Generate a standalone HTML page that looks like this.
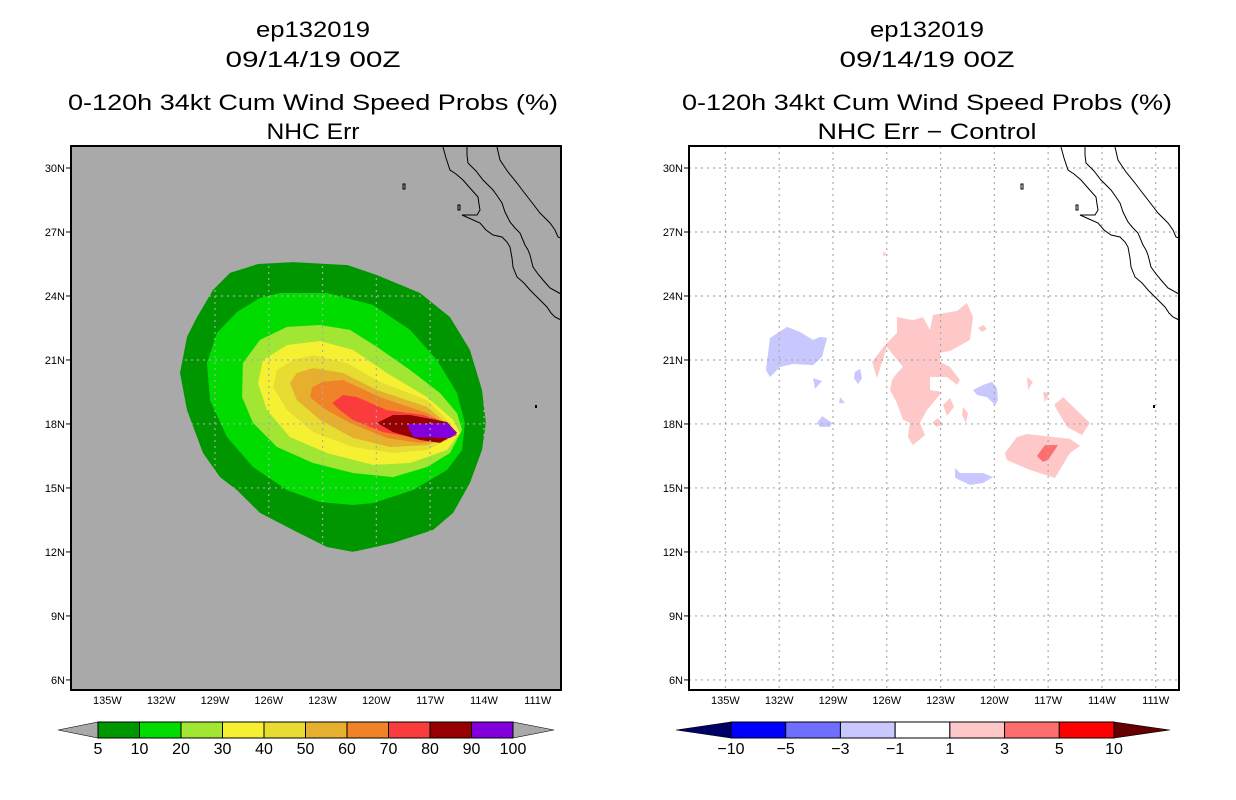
<!DOCTYPE html>
<html><head><meta charset="utf-8"><style>
body{margin:0;background:#fff;}
svg{display:block;font-family:"Liberation Sans",sans-serif;}
</style></head><body>
<svg id="s" width="1236" height="800" xmlns="http://www.w3.org/2000/svg"></svg>
<script>
// ---- data ----
const latTicks=[30,27,24,21,18,15,12,9,6];
const lonTicks=[135,132,129,126,123,120,117,114,111];
const leftLevels=['5','10','20','30','40','50','60','70','80','90','100'];
const leftColors=['#009600','#00DC00','#A0E632','#F5F032','#E6DC32','#E6AF2D','#F08228','#FA3C3C','#960000','#8200DC'];
const rightLevels=['−10','−5','−3','−1','1','3','5','10'];
const rightColors=['#0000FF','#6E6EFF','#C8C8FF','#FFFFFF','#FFC8C8','#FF6E6E','#FF0000'];
const c5=[[126.6,25.5],[124.65,25.59],[121.6,25.45],[119.96,24.98],[117.56,24.14],[115.89,23.01],[114.78,21.47],[114.11,19.59],[113.89,18.05],[114.11,16.78],[114.78,15.23],[115.72,13.83],[116.84,13.03],[119.07,12.42],[121.3,12.0],[122.75,12.23],[124.65,13.03],[126.49,13.83],[127.77,14.9],[128.72,15.51],[129.67,16.64],[130.56,18.65],[130.95,20.39],[130.56,22.08],[130.0,23.01],[129.11,24.28],[128.16,25.08]];
const c10=[[125.37,24.14],[122.75,24.14],[120.19,23.58],[118.12,22.41],[116.62,21.0],[115.5,19.45],[115.06,18.05],[115.22,16.78],[116.06,15.84],[117.96,14.9],[120.19,14.29],[121.3,14.2],[123.14,14.34],[124.98,14.9],[126.88,15.98],[128.33,17.39],[129.28,19.12],[129.45,20.86],[128.89,22.27],[127.77,23.25],[126.49,23.91]];
const c20=[[123.14,22.64],[121.47,22.41],[119.96,21.61],[118.12,20.53],[116.45,19.45],[115.5,18.51],[115.22,17.72],[115.89,16.64],[117.17,15.98],[119.07,15.51],[121.3,15.7],[123.53,16.17],[125.54,16.92],[126.88,18.05],[127.49,19.26],[127.44,20.86],[126.49,21.94],[124.98,22.55]];
const c30=[[124.98,21.7],[123.14,21.89],[121.3,21.47],[119.41,20.39],[117.17,19.26],[115.72,18.19],[115.33,17.58],[116.06,16.78],[118.12,16.17],[120.19,16.08],[122.75,16.64],[124.82,17.39],[126.1,18.65],[126.6,19.92],[126.32,21.0]];
const c40=[[123.53,21.23],[121.64,20.86],[119.8,19.97],[117.17,19.12],[115.89,18.05],[115.72,17.39],[117.17,16.78],[119.07,16.64],[121.3,16.92],[123.53,17.62],[124.98,18.65],[125.76,19.73],[125.54,20.53],[124.65,21.0]];
const c50=[[123.53,20.62],[121.86,20.39],[119.96,19.59],[117.17,18.8],[115.89,17.86],[115.89,17.39],[117.17,17.01],[119.24,16.92],[121.3,17.34],[123.14,18.19],[124.43,19.12],[124.82,19.92],[124.43,20.39]];
const c60=[[122.97,19.97],[121.86,20.06],[119.8,19.26],[117.17,18.51],[115.89,17.86],[116.06,17.25],[117.56,17.11],[119.41,17.34],[121.47,18.05],[122.97,18.75],[123.7,19.26],[123.58,19.73]];
const c70=[[121.86,19.36],[121.08,19.26],[119.41,18.65],[117.4,18.42],[116.06,18.05],[115.5,17.48],[116.28,17.25],[117.73,17.34],[119.63,17.62],[121.3,18.19],[122.03,18.65],[122.47,18.98]];
const c80=[[119.96,18.05],[119.07,18.42],[118.12,18.42],[116.06,18.09],[115.5,17.58],[116.45,17.11],[117.56,17.25],[119.07,17.62]];
const c90=[[118.29,18.0],[116.06,18.05],[115.5,17.58],[115.89,17.34],[117.96,17.39]];
const leftContours=[c5,c10,c20,c30,c40,c50,c60,c70,c80,c90];
const diffBlobs=[
 [2,[[132.51,22.03],[131.56,22.55],[130.84,22.31],[130.11,21.94],[129.72,22.08],[129.33,22.03],[129.61,21.14],[130.11,20.76],[131.23,20.81],[131.95,20.67],[132.51,20.2],[132.74,20.53]]],
 [4,[[125.43,23.01],[124.54,22.87],[123.98,23.01],[123.59,22.41],[123.42,23.11],[122.08,23.3],[121.53,23.67],[121.19,23.01],[121.36,21.94],[122.47,21.42],[123.03,21.33],[123.03,20.91],[122.47,20.67],[121.92,20.06],[122.08,19.83],[122.64,20.2],[123.59,20.2],[123.59,19.59],[122.92,19.5],[123.76,18.65],[124.15,18.05],[123.87,17.48],[124.54,17.01],[124.82,17.39],[124.71,18.05],[125.1,18.19],[125.43,18.98],[125.82,19.59],[125.71,20.06],[125.43,20.39],[125.1,20.67],[125.99,21.61],[126.55,20.15],[126.82,20.91],[126.1,21.7],[125.43,22.27]]],
 [2,[[121.19,19.59],[120.63,19.83],[120.13,19.97],[119.85,19.69],[119.8,19.12],[119.96,18.89],[120.41,19.26],[120.97,19.36]]],
 [2,[[122.19,15.94],[121.92,15.7],[120.63,15.7],[120.08,15.51],[120.63,15.23],[121.36,15.14],[122.19,15.47]]],
 [4,[[118.74,17.39],[118.18,17.53],[117.62,17.48],[115.78,17.3],[115.22,16.97],[115.78,16.64],[116.62,15.47],[118.01,15.84],[119.3,16.31],[119.41,16.64]]],
 [5,[[117.18,17.01],[116.45,17.01],[117.01,16.31],[117.29,16.22],[117.62,16.5]]],
 [4,[[116.17,19.26],[114.67,18.05],[115.11,17.48],[115.95,17.86],[116.67,18.89]]],
 [4,[[118.18,20.2],[117.85,19.97],[118.12,19.59]]],
 [4,[[117.29,19.5],[116.9,19.45],[117.18,19.03]]],
 [4,[[122.86,18.89],[122.47,19.22],[122.25,18.8],[122.64,18.37]]],
 [4,[[121.75,18.8],[121.47,18.51],[121.58,18.05],[121.8,18.42]]],
 [4,[[123.48,18.05],[123.14,18.28],[122.86,17.95],[123.2,17.86]]],
 [4,[[120.91,22.5],[120.63,22.64],[120.41,22.45],[120.69,22.31]]],
 [4,[[126.2,26.1],[126.0,25.95],[126.2,25.85]]],
 [2,[[130.11,20.15],[129.61,20.01],[130.0,19.64]]],
 [2,[[127.77,20.44],[127.49,20.58],[127.38,20.15],[127.6,19.87],[127.83,20.15]]],
 [2,[[128.61,19.26],[128.33,18.98],[128.66,18.98]]],
 [2,[[129.89,18.05],[129.61,18.37],[129.05,18.05],[129.16,17.86],[129.72,17.86]]]
];
const coastA=[[443,147],[446,158],[450,170],[456,174],[463,180],[470,188],[478,197],[479,204],[480,210],[477,215],[462,215],[471,219],[480,223],[486,230],[493,235],[502,237],[507,242],[510,247],[512,258],[513,267],[517,277],[524,283],[530,290],[538,298],[547,307],[551,313],[555,317],[561,320]];
const coastB=[[467,147],[467,155],[468,163],[476,171],[483,180],[493,190],[498,197],[502,203],[505,212],[510,222],[515,228],[520,233],[525,245],[528,250],[530,255],[533,267],[538,274],[543,280],[550,288],[561,294]];
const coastC=[[497,147],[500,160],[508,172],[517,183],[523,191],[530,200],[540,213],[550,223],[555,230],[558,237],[561,238]];

// ---- drawing ----
const NS='http://www.w3.org/2000/svg';
const svg=document.getElementById('s');
function mk(tag,at,parent){const e=document.createElementNS(NS,tag);for(const k in at)e.setAttribute(k,at[k]);(parent||svg).appendChild(e);return e;}
const W0=137.03,PXD=17.93,PYD=21.33,TOP=146,BOT=690,PW=490;
function xs(x0,lonW){return x0+(W0-lonW)*PXD;}
function ys(lat){return 168+(30-lat)*PYD;}
function pts(x0,arr){return arr.map(p=>xs(x0,p[0]).toFixed(1)+','+ys(p[1]).toFixed(1)).join(' ');}

function panel(x0,cx,sub,subW,isLeft){
  const g=mk('g',{});
  
  
  const titles=['ep132019','09/14/19 00Z','0-120h 34kt Cum Wind Speed Probs (%)',sub];
  const tw=[114,175,490,subW];
  const ty=[37,67,110,139];
  titles.forEach((t,i)=>{const e=mk('text',{x:cx-tw[i]/2,y:ty[i],'font-size':22,fill:'#000',textLength:tw[i],lengthAdjust:'spacingAndGlyphs'},g);e.textContent=t;
    
    });
  const bg=mk('rect',{x:x0,y:TOP,width:PW,height:BOT-TOP,fill:isLeft?'#A9A9A9':'#fff'},g);
  
  
  const cg=mk('g',{},g);
  if(isLeft){
    leftContours.forEach((c,i)=>{const p=mk('polygon',{points:pts(x0,c),fill:leftColors[i]},cg);
      
      });
  } else {
    diffBlobs.forEach((b,i)=>{const p=mk('polygon',{points:pts(x0,b[1]),fill:rightColors[b[0]]},cg);
      
      });
  }
  lonTicks.forEach(l=>{const x=xs(x0,l);const ln=mk('line',{x1:x,x2:x,y1:TOP,y2:BOT,stroke:'#aaa','stroke-width':1.2,'stroke-dasharray':'2,4'},g);
    
    const t=mk('text',{x:x,y:704,'text-anchor':'middle','font-size':11,fill:'#000'},g);t.textContent=l+'W';
    });
  latTicks.forEach(l=>{const y=ys(l);const ln=mk('line',{x1:x0,x2:x0+PW,y1:y,y2:y,stroke:'#aaa','stroke-width':1.2,'stroke-dasharray':'2,4'},g);
    
    mk('line',{x1:x0-5,x2:x0,y1:y,y2:y,stroke:'#000'},g);
    const t=mk('text',{x:x0-6,y:y+4,'text-anchor':'end','font-size':11,fill:'#000'},g);t.textContent=l+'N';
    });
  const off=x0-71;
  [coastA,coastB,coastC].forEach(c=>{const p=mk('polyline',{points:c.map(q=>(q[0]+off)+','+q[1]).join(' '),fill:'none',stroke:'#000','stroke-width':1},g);
    });
  mk('rect',{x:458+off,y:205,width:2,height:5,fill:'none',stroke:'#000','stroke-width':1},g);
  mk('rect',{x:403+off,y:184,width:2,height:5,fill:'none',stroke:'#000','stroke-width':1},g);
  mk('rect',{x:535+off,y:405,width:2,height:3,fill:'#000'},g);
  const fr=mk('rect',{x:x0,y:TOP,width:PW,height:BOT-TOP,fill:'none',stroke:'#000','stroke-width':2},g);
  
  return g;
}
panel(71,313,'NHC Err',93,true);
panel(689,927,'NHC Err − Control',219,false);

function colorbar(x0,x1,tipL,tipR,colors,labels,lc,rc,name){
  const g=mk('g',{});
  
  
  const y0=722,y1=738,ym=730,n=colors.length,bw=(x1-x0)/n;
  mk('polygon',{points:`${tipL},${ym} ${x0},${y0} ${x0},${y1}`,fill:lc,stroke:'#000','stroke-width':0.6},g);
  mk('polygon',{points:`${tipR},${ym} ${x1},${y0} ${x1},${y1}`,fill:rc,stroke:'#000','stroke-width':0.6},g);
  colors.forEach((c,i)=>{const r=mk('rect',{x:x0+i*bw,y:y0,width:bw,height:y1-y0,fill:c,stroke:'#000','stroke-width':1},g);
    });
  labels.forEach((l,i)=>{const t=mk('text',{x:x0+i*bw,y:754,'text-anchor':'middle','font-size':16,fill:'#000'},g);t.textContent=l;
    });
}
colorbar(98,513,58,554,leftColors,leftLevels,'#A9A9A9','#A9A9A9','left-colorbar');
colorbar(731,1114,676,1170,rightColors,rightLevels,'#000064','#640000','right-colorbar');
</script>
</body></html>
